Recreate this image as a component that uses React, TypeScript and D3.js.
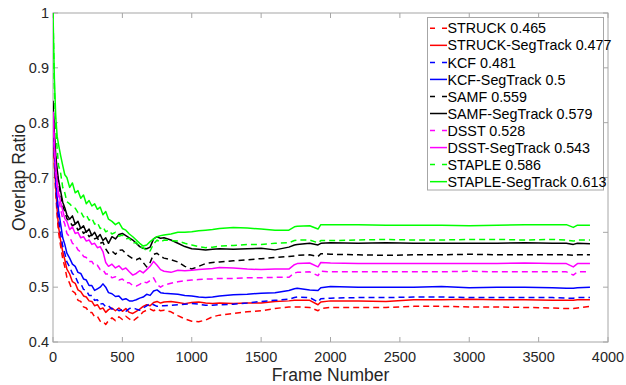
import React from "react";
import * as d3 from "d3";

// Frame indices at which the running mean overlap is sampled
const FRAMES = [
  0, 10, 20, 30, 40, 55, 70, 85, 100, 120,
  140, 160, 180, 200, 220, 240, 260, 280, 300, 320,
  340, 360, 380, 400, 425, 450, 475, 500, 525, 550,
  575, 600, 625, 650, 675, 700, 725, 750, 775, 800,
  850, 900, 950, 1000, 1050, 1100, 1150, 1200, 1300, 1400,
  1500, 1600, 1700, 1740, 1760, 1850, 1910, 1930, 2000, 2200,
  2400, 2600, 2800, 3000, 3200, 3400, 3600, 3700, 3750, 3780,
  3870,
];

const STRUCK = [
  0.8, 0.72, 0.67, 0.63, 0.6, 0.575, 0.552, 0.537, 0.518, 0.507,
  0.493, 0.489, 0.476, 0.474, 0.464, 0.462, 0.454, 0.454, 0.446, 0.447,
  0.438, 0.438, 0.432, 0.439, 0.444, 0.439, 0.446, 0.441, 0.447, 0.442,
  0.438, 0.443, 0.448, 0.455, 0.458, 0.46, 0.457, 0.46, 0.457, 0.458,
  0.455, 0.448, 0.442, 0.438, 0.437, 0.44, 0.446, 0.449, 0.452, 0.455,
  0.457, 0.461, 0.464, 0.464, 0.464, 0.463, 0.457, 0.461, 0.463, 0.463,
  0.463, 0.465, 0.465, 0.464, 0.464, 0.463, 0.462, 0.461, 0.461, 0.462,
  0.465,
];

const STRUCK_SEG = [
  0.8, 0.73, 0.68, 0.64, 0.61, 0.585, 0.565, 0.55, 0.533, 0.524,
  0.51, 0.507, 0.495, 0.492, 0.484, 0.482, 0.475, 0.474, 0.466, 0.468,
  0.46, 0.462, 0.454, 0.459, 0.462, 0.457, 0.462, 0.456, 0.461, 0.454,
  0.452, 0.456, 0.46, 0.465, 0.468, 0.466, 0.472, 0.474, 0.471, 0.473,
  0.474, 0.472, 0.47, 0.472, 0.473, 0.471, 0.47, 0.471, 0.47, 0.471,
  0.471, 0.474, 0.475, 0.476, 0.476, 0.476, 0.468, 0.473, 0.475, 0.475,
  0.474, 0.477, 0.477, 0.478, 0.477, 0.477, 0.476, 0.476, 0.476, 0.477,
  0.477,
];

const KCF = [
  0.82, 0.74, 0.69, 0.65, 0.625, 0.598, 0.575, 0.562, 0.546, 0.537,
  0.525, 0.52, 0.508, 0.507, 0.496, 0.494, 0.485, 0.485, 0.476, 0.477,
  0.469, 0.47, 0.464, 0.466, 0.46, 0.462, 0.457, 0.459, 0.456, 0.461,
  0.462, 0.46, 0.458, 0.462, 0.466, 0.47, 0.468, 0.465, 0.466, 0.466,
  0.467, 0.468, 0.469, 0.47, 0.469, 0.467, 0.467, 0.468, 0.469, 0.471,
  0.474, 0.476, 0.478, 0.481, 0.482, 0.481, 0.473, 0.479, 0.48, 0.481,
  0.481, 0.482, 0.482, 0.481, 0.481, 0.481, 0.481, 0.48, 0.48, 0.481,
  0.481,
];

const KCF_SEG = [
  0.82, 0.75, 0.7, 0.665, 0.64, 0.615, 0.59, 0.578, 0.562, 0.553,
  0.542, 0.538, 0.527, 0.525, 0.515, 0.513, 0.503, 0.503, 0.494, 0.497,
  0.5, 0.506, 0.5, 0.49, 0.488, 0.483, 0.484, 0.477, 0.479, 0.475,
  0.475, 0.477, 0.48, 0.482, 0.487, 0.485, 0.493, 0.495, 0.49, 0.489,
  0.488, 0.487, 0.485, 0.484, 0.482, 0.481, 0.482, 0.484, 0.486, 0.487,
  0.489, 0.49, 0.494, 0.497, 0.498, 0.495, 0.494, 0.499, 0.501, 0.5,
  0.5, 0.5, 0.501, 0.499, 0.5, 0.5, 0.499, 0.498, 0.498, 0.499,
  0.5,
];

const SAMF = [
  0.83, 0.77, 0.73, 0.705, 0.69, 0.67, 0.648, 0.638, 0.625, 0.62,
  0.612, 0.615, 0.604, 0.608, 0.598, 0.602, 0.592, 0.596, 0.588, 0.59,
  0.58, 0.582, 0.57, 0.562, 0.566, 0.56, 0.567, 0.568, 0.561, 0.556,
  0.552, 0.55, 0.553, 0.545, 0.537, 0.545, 0.56, 0.562, 0.556, 0.553,
  0.55, 0.546, 0.538, 0.533, 0.538, 0.543, 0.545, 0.546, 0.548, 0.55,
  0.552, 0.554, 0.556, 0.557, 0.558, 0.559, 0.556, 0.561, 0.56, 0.559,
  0.558, 0.559, 0.559, 0.56, 0.559, 0.559, 0.559, 0.559, 0.558, 0.559,
  0.559,
];

const SAMF_SEG = [
  0.84, 0.78, 0.74, 0.715, 0.695, 0.675, 0.655, 0.645, 0.632, 0.624,
  0.63, 0.615, 0.62, 0.607, 0.612, 0.6, 0.606, 0.594, 0.6, 0.59,
  0.596, 0.585, 0.59, 0.58, 0.592, 0.588, 0.596, 0.598, 0.594, 0.59,
  0.586, 0.58, 0.574, 0.571, 0.57, 0.573, 0.588, 0.592, 0.589, 0.59,
  0.586, 0.58, 0.574, 0.57, 0.569, 0.568, 0.569, 0.57, 0.569, 0.57,
  0.571, 0.568, 0.573, 0.577, 0.578, 0.58, 0.577, 0.58, 0.581, 0.58,
  0.581, 0.58, 0.58, 0.58, 0.58, 0.581, 0.58, 0.58, 0.578, 0.58,
  0.579,
];

const DSST = [
  0.82, 0.75, 0.71, 0.68, 0.66, 0.642, 0.625, 0.615, 0.598, 0.592,
  0.58, 0.577, 0.568, 0.564, 0.556, 0.554, 0.547, 0.547, 0.539, 0.54,
  0.532, 0.532, 0.524, 0.524, 0.517, 0.519, 0.513, 0.515, 0.508, 0.508,
  0.503, 0.502, 0.505, 0.51, 0.508, 0.512, 0.517, 0.505, 0.5, 0.504,
  0.507, 0.51, 0.512, 0.513, 0.514, 0.515, 0.515, 0.516, 0.516, 0.517,
  0.517, 0.518, 0.518, 0.526, 0.527, 0.528, 0.521, 0.529, 0.528, 0.528,
  0.528, 0.528, 0.528, 0.529, 0.528, 0.528, 0.528, 0.528, 0.522, 0.528,
  0.528,
];

const DSST_SEG = [
  0.82, 0.76, 0.72, 0.69, 0.672, 0.655, 0.64, 0.625, 0.62, 0.605,
  0.61, 0.598, 0.6, 0.59, 0.592, 0.584, 0.586, 0.578, 0.58, 0.572,
  0.574, 0.565, 0.545, 0.538, 0.542, 0.535, 0.539, 0.532, 0.535, 0.528,
  0.522, 0.525, 0.53, 0.526, 0.532, 0.538, 0.547, 0.54, 0.532, 0.529,
  0.527, 0.531, 0.53, 0.531, 0.532, 0.533, 0.534, 0.536, 0.535, 0.533,
  0.532, 0.533, 0.533, 0.541, 0.543, 0.544, 0.537, 0.545, 0.544, 0.543,
  0.543, 0.543, 0.543, 0.543, 0.543, 0.544, 0.543, 0.543, 0.537, 0.543,
  0.543,
];

const STAPLE = [
  1.0, 0.86, 0.79, 0.752, 0.722, 0.708, 0.682, 0.672, 0.656, 0.652,
  0.646, 0.644, 0.636, 0.638, 0.628, 0.632, 0.622, 0.626, 0.615, 0.618,
  0.607, 0.61, 0.601, 0.604, 0.597, 0.6, 0.593, 0.595, 0.588, 0.589,
  0.58, 0.582, 0.573, 0.572, 0.566, 0.566, 0.579, 0.586, 0.582, 0.586,
  0.585, 0.584, 0.58, 0.577, 0.574, 0.572, 0.573, 0.575, 0.576, 0.578,
  0.578, 0.58, 0.581, 0.585, 0.586, 0.586, 0.581, 0.585, 0.585, 0.586,
  0.587, 0.586, 0.586, 0.587, 0.587, 0.586, 0.587, 0.586, 0.584, 0.586,
  0.586,
];

const STAPLE_SEG = [
  1.0, 0.88, 0.81, 0.775, 0.76, 0.74, 0.722, 0.705, 0.7, 0.682,
  0.69, 0.672, 0.676, 0.662, 0.668, 0.652, 0.658, 0.648, 0.652, 0.642,
  0.646, 0.632, 0.638, 0.624, 0.62, 0.614, 0.618, 0.607, 0.604, 0.597,
  0.592, 0.586, 0.58, 0.575, 0.577, 0.583, 0.588, 0.592, 0.594, 0.595,
  0.597, 0.6, 0.6, 0.601, 0.603, 0.604, 0.605, 0.607, 0.609, 0.608,
  0.606, 0.604, 0.604, 0.61, 0.611, 0.612, 0.606, 0.614, 0.614, 0.614,
  0.613, 0.613, 0.613, 0.612, 0.613, 0.614, 0.614, 0.614, 0.609, 0.613,
  0.613,
];

const LEGEND_LABELS = [
  "STRUCK 0.465",
  "STRUCK-SegTrack 0.477",
  "KCF 0.481",
  "KCF-SegTrack 0.5",
  "SAMF 0.559",
  "SAMF-SegTrack 0.579",
  "DSST 0.528",
  "DSST-SegTrack 0.543",
  "STAPLE 0.586",
  "STAPLE-SegTrack 0.613",
];

const SERIES_VALUES = [
  STRUCK, STRUCK_SEG, KCF, KCF_SEG, SAMF, SAMF_SEG, DSST, DSST_SEG, STAPLE, STAPLE_SEG,
];
const SERIES_COLORS = [
  "#ff0000", "#ff0000", "#0000ff", "#0000ff", "#000000", "#000000",
  "#ff00ff", "#ff00ff", "#00ff00", "#00ff00",
];
const SERIES_DASHED = [true, false, true, false, true, false, true, false, true, false];

const X_TICKS = [0, 500, 1000, 1500, 2000, 2500, 3000, 3500, 4000];
const Y_TICKS = [0.4, 0.5, 0.6, 0.7, 0.8, 0.9, 1];

const W = 626;
const H = 385;
const M = { left: 53, right: 608, top: 13, bottom: 342 };
const FONT = "'Liberation Sans', Arial, Helvetica, sans-serif";
const AXIS = "#a6a6a6";
const TEXT = "#262626";

export default function App() {
  const x = d3.scaleLinear().domain([0, 4000]).range([M.left, M.right]);
  const y = d3.scaleLinear().domain([0.4, 1]).range([M.bottom, M.top]);
  const line = d3
    .line<number>()
    .x((_, i) => x(FRAMES[i]))
    .y((d) => y(d));

  const tick = 5;
  const legend = { x: 427.5, y: 17.5, w: 176, h: 172.5, row0: 28.3, step: 17.04 };

  return (
    <svg
      width={W}
      height={H}
      style={{ position: "absolute", left: 0, top: 0, background: "#fff" }}
      fontFamily={FONT}
    >
      <defs>
        <clipPath id="plot-clip">
          <rect x={M.left} y={M.top} width={M.right - M.left} height={M.bottom - M.top} />
        </clipPath>
      </defs>

      {/* frame box */}
      <rect
        x={M.left}
        y={M.top}
        width={M.right - M.left}
        height={M.bottom - M.top}
        fill="none"
        stroke={AXIS}
        strokeWidth={1}
      />

      {/* ticks on all four sides, pointing inward */}
      {X_TICKS.map((t) => (
        <g key={"xt" + t}>
          <line x1={x(t)} x2={x(t)} y1={M.bottom} y2={M.bottom - tick} stroke={AXIS} />
          <line x1={x(t)} x2={x(t)} y1={M.top} y2={M.top + tick} stroke={AXIS} />
          <text x={x(t)} y={362} textAnchor="middle" fontSize={14.5} fill={TEXT}>
            {t}
          </text>
        </g>
      ))}
      {Y_TICKS.map((t) => (
        <g key={"yt" + t}>
          <line x1={M.left} x2={M.left + tick} y1={y(t)} y2={y(t)} stroke={AXIS} />
          <line x1={M.right} x2={M.right - tick} y1={y(t)} y2={y(t)} stroke={AXIS} />
          <text
            x={49}
            y={y(t)}
            dy="0.36em"
            textAnchor="end"
            fontSize={14.5}
            fill={TEXT}
          >
            {d3.format("~g")(t)}
          </text>
        </g>
      ))}

      {/* axis titles */}
      <text x={(M.left + M.right) / 2} y={381} textAnchor="middle" fontSize={17.5} fill={TEXT}>
        Frame Number
      </text>
      <text
        transform={`translate(19,${(M.top + M.bottom) / 2}) rotate(-90)`}
        dy="0.36em"
        textAnchor="middle"
        fontSize={17.5}
        fill={TEXT}
      >
        Overlap Ratio
      </text>

      {/* running mean overlap curves */}
      <g clipPath="url(#plot-clip)">
        {SERIES_VALUES.map((vals, i) => (
          <path
            key={"s" + i}
            d={line(vals) ?? ""}
            fill="none"
            stroke={SERIES_COLORS[i]}
            strokeWidth={1.5}
            strokeDasharray={SERIES_DASHED[i] ? "6,4" : undefined}
            strokeLinejoin="round"
          />
        ))}
      </g>

      {/* legend */}
      <rect
        x={legend.x}
        y={legend.y}
        width={legend.w}
        height={legend.h}
        fill="#fff"
        stroke={AXIS}
        strokeWidth={1}
      />
      {LEGEND_LABELS.map((label, i) => {
        const cy = legend.row0 + i * legend.step;
        return (
          <g key={"lg" + i}>
            <line
              x1={430}
              x2={447}
              y1={cy}
              y2={cy}
              stroke={SERIES_COLORS[i]}
              strokeWidth={1.5}
              strokeDasharray={SERIES_DASHED[i] ? "5,7" : undefined}
            />
            <text x={447.5} y={cy} dy="0.36em" fontSize={14.3} fill="#000">
              {label}
            </text>
          </g>
        );
      })}
    </svg>
  );
}
